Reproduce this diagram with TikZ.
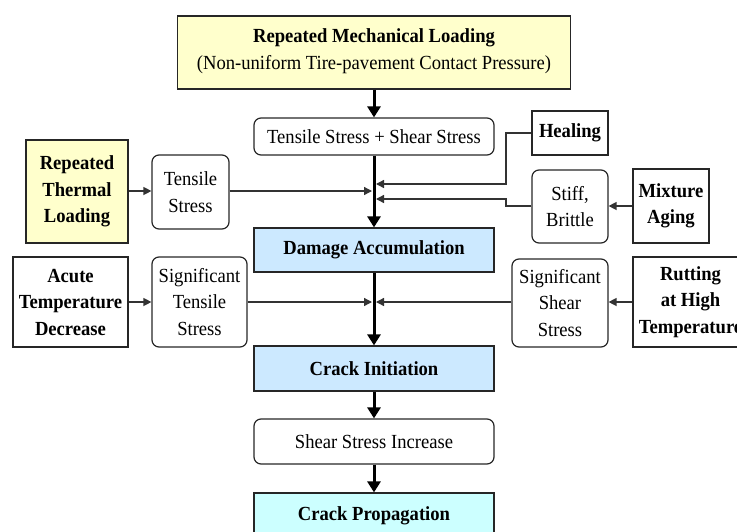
\documentclass[tikz,border=0pt]{standalone}
\usepackage{fontspec}
\setmainfont[FakeStretch=0.93]{Liberation Serif}
\usetikzlibrary{arrows.meta}
\definecolor{pyellow}{HTML}{FFFFCC}
\definecolor{pblue}{HTML}{CCE9FF}
\definecolor{pcyan}{HTML}{CCFFFF}
\tikzset{
  box/.style={draw=black!85, line width=1.2pt, align=center, inner sep=0pt,
    font=\fontsize{20}{26.5}\selectfont},
  rbox/.style={box, rounded corners=7pt},
  bbox/.style={box, font=\fontsize{20}{26.5}\selectfont\bfseries},
  thick arrow/.style={line width=3pt, -{Triangle[length=11pt,width=13pt]}},
  thin arrow/.style={line width=1.3pt, draw=black!80, -{Triangle[length=8pt,width=8pt]}},
}
\begin{document}
\begin{tikzpicture}[x=1pt,y=-1pt]
\useasboundingbox (0,0) rectangle (737,531);
% nodes
\node[box, fill=pyellow, minimum width=393pt, minimum height=73pt] (top) at (374,52.5)
  {\textbf{Repeated Mechanical Loading}\\(Non-uniform Tire-pavement Contact Pressure)\\[-20pt]\mbox{}};
\node[rbox, minimum width=240pt, minimum height=37pt] (ts) at (374,136.5) {Tensile Stress + Shear Stress};
\node[bbox, minimum width=76pt, minimum height=44pt] (heal) at (570,133) {Healing};
\node[rbox, minimum width=76pt, minimum height=73pt] (stiff) at (570,206.5) {Stiff,\\Brittle};
\node[bbox, minimum width=76pt, minimum height=74pt] (mix) at (671,206) {Mixture\\Aging};
\node[bbox, fill=pyellow, minimum width=102pt, minimum height=103pt] (therm) at (77,191.5) {Repeated\\Thermal\\Loading};
\node[rbox, minimum width=77pt, minimum height=74pt] (tens) at (190.5,192) {Tensile\\Stress};
\node[bbox, fill=pblue, minimum width=240pt, minimum height=44pt] (dam) at (374,250) {Damage Accumulation};
\node[bbox, minimum width=115pt, minimum height=90pt] (acute) at (70.5,302) {Acute\\Temperature\\Decrease};
\node[rbox, minimum width=95pt, minimum height=90pt] (sigt) at (199.5,302) {Significant\\Tensile\\Stress};
\node[rbox, minimum width=96pt, minimum height=88pt] (sigs) at (560,303) {Significant\\Shear\\Stress};
\node[bbox, minimum width=115pt, minimum height=90pt] (rut) at (690.5,302) {Rutting\\at High\\Temperature};
\node[bbox, fill=pblue, minimum width=240pt, minimum height=45pt] (ci) at (374,368.5) {Crack Initiation};
\node[rbox, minimum width=240pt, minimum height=45pt] (ssi) at (374,441.5) {Shear Stress Increase};
\node[bbox, fill=pcyan, minimum width=240pt, minimum height=45pt] (cp) at (374,515.5) {Crack Propagation};
% junction coordinates on the main line
\coordinate (jl1) at (372,191);
\coordinate (jr1) at (376,184);
\coordinate (jr2) at (376,199);
\coordinate (jl2) at (372,302);
\coordinate (jr3) at (376,302);
\coordinate (bendh1) at (506,133);
\coordinate (bendh2) at (506,184);
\coordinate (bends1) at (506,206);
\coordinate (bends2) at (506,199);
% main flow
\draw[thick arrow] (top.south) -- (ts.north);
\draw[thick arrow] (ts.south) -- (dam.north);
\draw[thick arrow] (dam.south) -- (ci.north);
\draw[thick arrow] (ci.south) -- (ssi.north);
\draw[thick arrow] (ssi.south) -- (cp.north);
% side inputs
\draw[thin arrow] (therm.east |- jl1) -- (tens.west |- jl1);
\draw[thin arrow] (tens.east |- jl1) -- (jl1);
\draw[thin arrow] (heal.west) -- (bendh1) -- (bendh2) -- (jr1);
\draw[thin arrow] (stiff.west |- bends1) -- (bends1) -- (bends2) -- (jr2);
\draw[thin arrow] (mix.west |- bends1) -- (stiff.east |- bends1);
\draw[thin arrow] (acute.east) -- (sigt.west);
\draw[thin arrow] (sigt.east) -- (jl2);
\draw[thin arrow] (rut.west) -- (sigs.east |- jr3);
\draw[thin arrow] (sigs.west |- jr3) -- (jr3);
\end{tikzpicture}
\end{document}
